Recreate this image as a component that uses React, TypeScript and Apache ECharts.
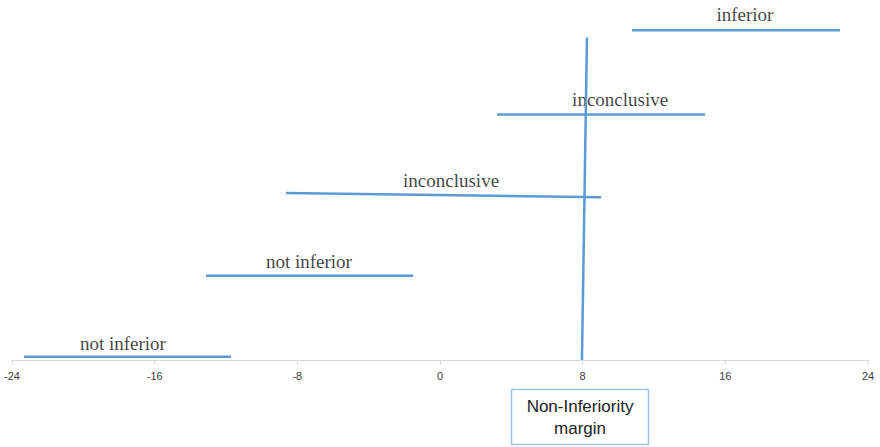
import React, { useEffect, useRef } from "react";
import * as echarts from "echarts";

const xTicks = [-24, -16, -8, 0, 8, 16, 24];
// Each interval: [x1, y1, x2, y2]
const intervals: number[][] = [
  [-23.33, 0.04, -11.72, 0.04],
  [-13.12, 1.04, -1.51, 1.04],
  [-8.64, 2.06, 9.03, 2.01],
  [3.2, 3.03, 14.86, 3.03],
  [10.77, 4.07, 22.43, 4.07],
];
const marginLine: number[][] = [
  [7.96, 0],
  [8.24, 3.98],
];
const labelTexts = ["not inferior", "not inferior", "inconclusive", "inconclusive", "inferior"];
const labelX = [-17.78, -7.35, 0.62, 10.1, 17.1];
const labelY = [0.2, 1.21, 2.21, 3.21, 4.26];
const boxText = "Non-Inferiority\nmargin";

const LINE = "#5B9BD5";

export default function App() {
  const ref = useRef<HTMLDivElement>(null);
  useEffect(() => {
    const chart = echarts.init(ref.current!, undefined, { renderer: "svg" });
    const series: any[] = intervals.map((s) => ({
      type: "line",
      data: [
        [s[0], s[1]],
        [s[2], s[3]],
      ],
      symbol: "none",
      lineStyle: { color: LINE, width: 2.5 },
      silent: true,
    }));
    series.push({
      type: "line",
      data: marginLine,
      symbol: "none",
      lineStyle: { color: LINE, width: 2.5 },
      silent: true,
    });
    series.push({
      type: "scatter",
      symbolSize: 0,
      data: labelX.map((x, i) => ({ value: [x, labelY[i]], name: labelTexts[i] })),
      label: {
        show: true,
        position: "inside",
        formatter: (p: any) => p.name,
        fontFamily: "Liberation Serif",
        fontSize: 19,
        color: "#111",
      },
      silent: true,
    });
    chart.setOption({
      animation: false,
      grid: { left: 12, right: 12, top: 0, bottom: 87 },
      xAxis: {
        type: "value",
        min: -24,
        max: 24,
        interval: 8,
        axisLine: { show: true, lineStyle: { color: "#d9d9d9", width: 1 } },
        axisTick: { show: true, length: 4, lineStyle: { color: "#d9d9d9" } },
        splitLine: { show: false },
        axisLabel: {
          color: "#404040",
          fontSize: 11,
          fontFamily: "Liberation Sans",
          margin: 10,
          customValues: xTicks,
        },
      },
      yAxis: {
        type: "value",
        min: 0,
        max: 4.444,
        show: false,
        splitLine: { show: false },
      },
      graphic: [
        {
          type: "rect",
          shape: { x: 511.5, y: 389.5, width: 137, height: 55 },
          style: { fill: "#fff", stroke: "#9DC3E6", lineWidth: 1.5 },
        },
        {
          type: "text",
          x: 580,
          y: 417,
          style: {
            text: boxText,
            fontFamily: "Liberation Sans",
            fontSize: 17,
            lineHeight: 22,
            fill: "#222",
            align: "center",
            verticalAlign: "middle",
          },
        },
      ],
      series,
    });
    return () => chart.dispose();
  }, []);
  return <div ref={ref} style={{ width: 880, height: 447, position: "absolute", left: 0, top: 0 }} />;
}
